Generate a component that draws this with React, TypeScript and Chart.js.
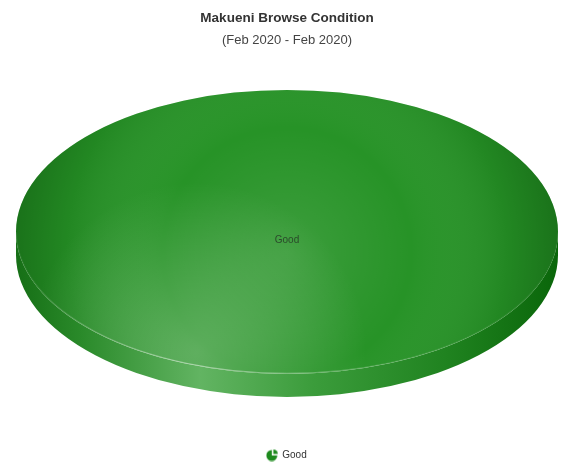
import React, { useEffect, useRef } from 'react';
import { Chart, registerables } from 'chart.js';

Chart.register(...registerables);

const titleText = 'Makueni Browse Condition';
const subtitleText = '(Feb 2020 - Feb 2020)';
const categories = ['Good'];
const values = [100];
const sliceColors = ['#279327'];

const FONT = "'Liberation Sans', Arial, Helvetica, sans-serif";

function makeLegendIcon(color: string) {
  const c = document.createElement('canvas');
  c.width = 13;
  c.height = 13;
  const g = c.getContext('2d')!;
  g.fillStyle = color;
  g.beginPath();
  g.moveTo(6, 7);
  g.arc(6, 7, 5.5, 0, 1.5 * Math.PI);
  g.closePath();
  g.fill();
  g.beginPath();
  g.moveTo(7.5, 5.5);
  g.arc(7.5, 5.5, 4.5, -0.5 * Math.PI, 0);
  g.closePath();
  g.fill();
  return c;
}

function geom(chart: any, opts: any) {
  const ca = chart.chartArea;
  const cx = (ca.left + ca.right) / 2;
  const rx = (ca.right - ca.left) / 2;
  const ry = rx * opts.tilt;
  const total = 2 * ry + opts.depth;
  const top = (ca.top + ca.bottom) / 2 - total / 2 + opts.offsetY;
  return { cx, cy: top + ry, rx, ry, depth: opts.depth };
}

const pie3d = {
  id: 'pie3d',
  beforeDatasetDraw(chart: any, args: any, opts: any) {
    const arc = args.meta.data[0];
    if (!arc) return;
    const ctx = chart.ctx;
    const g = geom(chart, opts);
    // side wall (front half)
    ctx.save();
    const side = ctx.createLinearGradient(g.cx - g.rx, 0, g.cx + g.rx, 0);
    side.addColorStop(0, '#166f16');
    side.addColorStop(0.12, '#2a8a2a');
    side.addColorStop(0.34, '#62b462');
    side.addColorStop(0.55, '#3b9c3b');
    side.addColorStop(0.8, '#1f821f');
    side.addColorStop(1, '#0a660a');
    ctx.fillStyle = side;
    ctx.beginPath();
    ctx.moveTo(g.cx + g.rx, g.cy);
    ctx.lineTo(g.cx + g.rx, g.cy + g.depth);
    ctx.ellipse(g.cx, g.cy + g.depth, g.rx, g.ry, 0, 0, Math.PI, false);
    ctx.lineTo(g.cx - g.rx, g.cy);
    ctx.ellipse(g.cx, g.cy, g.rx, g.ry, 0, Math.PI, 0, true);
    ctx.closePath();
    ctx.fill();
    ctx.restore();
    // transform for elliptical top face
    const r = arc.outerRadius;
    ctx.save();
    ctx.translate(g.cx, g.cy);
    ctx.scale(g.rx / r, g.ry / r);
    ctx.translate(-arc.x, -arc.y);
  },
  afterDatasetDraw(chart: any, args: any, opts: any) {
    const arc = args.meta.data[0];
    if (!arc) return;
    const ctx = chart.ctx;
    ctx.restore();
    const g = geom(chart, opts);
    // shading overlay on top face
    ctx.save();
    ctx.beginPath();
    ctx.ellipse(g.cx, g.cy, g.rx, g.ry, 0, 0, Math.PI * 2);
    ctx.clip();
    const shade = ctx.createRadialGradient(g.cx, g.cy + 20, 0, g.cx, g.cy + 20, g.rx + 5);
    shade.addColorStop(0, 'rgba(255,255,255,0.10)');
    shade.addColorStop(0.45, 'rgba(255,255,255,0.0)');
    shade.addColorStop(0.8, 'rgba(0,50,0,0.12)');
    shade.addColorStop(1, 'rgba(0,50,0,0.35)');
    ctx.fillStyle = shade;
    ctx.fillRect(g.cx - g.rx, g.cy - g.ry, g.rx * 2, g.ry * 2);
    const hx = g.cx - 90;
    const hy = g.cy + 120;
    const light = ctx.createRadialGradient(hx, hy, 0, hx, hy, 170);
    light.addColorStop(0, 'rgba(255,255,255,0.25)');
    light.addColorStop(1, 'rgba(255,255,255,0)');
    ctx.fillStyle = light;
    ctx.fillRect(g.cx - g.rx, g.cy - g.ry, g.rx * 2, g.ry * 2);
    ctx.restore();
    // rim highlight
    ctx.save();
    const rim = ctx.createLinearGradient(g.cx - g.rx, 0, g.cx + g.rx, 0);
    rim.addColorStop(0, 'rgba(255,255,255,0.05)');
    rim.addColorStop(0.34, 'rgba(255,255,255,0.45)');
    rim.addColorStop(0.7, 'rgba(255,255,255,0.15)');
    rim.addColorStop(1, 'rgba(255,255,255,0.02)');
    ctx.strokeStyle = rim;
    ctx.lineWidth = 1.2;
    ctx.beginPath();
    ctx.ellipse(g.cx, g.cy, g.rx - 0.5, g.ry - 0.5, 0, 0, Math.PI, false);
    ctx.stroke();
    ctx.restore();
  },
  afterDatasetsDraw(chart: any, _args: any, opts: any) {
    const meta = chart.getDatasetMeta(0);
    const arc = meta.data[0];
    if (!arc) return;
    const g = geom(chart, opts);
    const ctx = chart.ctx;
    ctx.save();
    ctx.font = `10px ${FONT}`;
    ctx.fillStyle = '#2b4a2b';
    ctx.textAlign = 'center';
    ctx.textBaseline = 'middle';
    ctx.fillText(String(chart.data.labels[0]), g.cx, g.cy + 8);
    ctx.restore();
  },
};

export default function App() {
  const ref = useRef<HTMLCanvasElement>(null);
  useEffect(() => {
    if (!ref.current) return;
    const icon = makeLegendIcon('#1d8a1d');
    const chart = new Chart(ref.current, {
      type: 'pie',
      data: {
        labels: categories,
        datasets: [
          {
            data: values,
            backgroundColor: sliceColors,
            borderWidth: 0,
            clip: false as any,
          } as any,
        ],
      },
      plugins: [pie3d as any],
      options: {
        animation: false,
        responsive: true,
        maintainAspectRatio: false,
        layout: { padding: { left: 16, right: 10, top: 0, bottom: 0 } },
        plugins: {
          pie3d: { depth: 23, tilt: 0.524, offsetY: -8.5 },
          title: {
            display: true,
            text: titleText,
            color: '#333333',
            font: { family: FONT, size: 13.5, weight: 'bold' },
            padding: { top: 10, bottom: 6 },
          },
          subtitle: {
            display: true,
            text: subtitleText,
            color: '#444444',
            font: { family: FONT, size: 13 },
            padding: { top: 0, bottom: 10 },
          },
          legend: {
            position: 'bottom',
            labels: {
              usePointStyle: true,
              pointStyle: icon as any,
              color: '#333333',
              font: { family: FONT, size: 10 },
              padding: 4,
            },
          },
          tooltip: { enabled: false },
        } as any,
      },
    });
    return () => chart.destroy();
  }, []);
  return (
    <div style={{ position: 'fixed', left: 0, top: 0, width: 568, height: 470, background: '#fff' }}>
      <canvas ref={ref} />
    </div>
  );
}
